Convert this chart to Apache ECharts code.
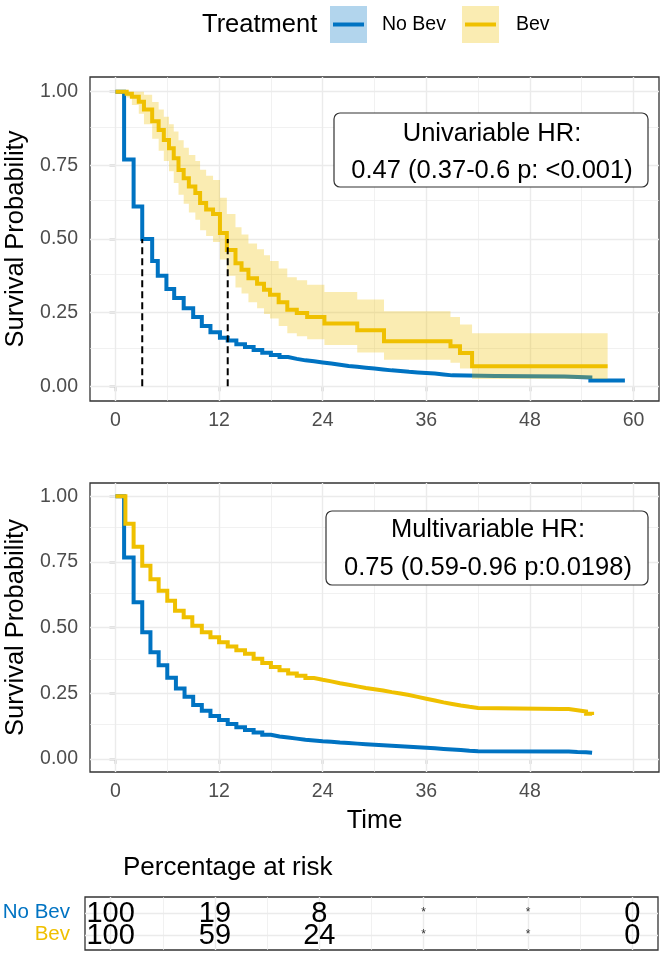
<!DOCTYPE html>
<html><head><meta charset="utf-8">
<script src="https://cdn.jsdelivr.net/npm/echarts@6/dist/echarts.min.js"></script>
<style>html,body{margin:0;padding:0;background:#fff}#c{width:664px;height:953px}</style>
</head><body><div id="c"></div>
<script>
// ---------- data ----------
const groups = ['No Bev', 'Bev'];
const xTicks = [0, 12, 24, 36, 48, 60];
const xTicksBottom = [0, 12, 24, 36, 48];
const xMinor = [6, 18, 30, 42, 54];
const yTicks = [0, 0.25, 0.5, 0.75, 1];
const yMinor = [0.125, 0.375, 0.625, 0.875];

// Univariable KM curves [time, survival]
const uniNoBev = [[0,1],[1.0,0.77],[2.1,0.61],[3.1,0.50],[4.25,0.425],[4.9,0.375],[5.9,0.33],[6.8,0.30],[7.9,0.265],[9.0,0.235],[10.0,0.205],[11.0,0.183],[12.1,0.165],[13,0.155],[14,0.143],[15,0.133],[16,0.123],[17,0.114],[18,0.106],[19,0.099],[20,0.093],[21,0.088],[22,0.085],[23,0.081],[24,0.077],[25,0.073],[26,0.069],[27,0.066],[28,0.063],[29,0.06],[30,0.057],[31,0.054],[32,0.052],[33,0.049],[34,0.047],[35,0.045],[36,0.043],[37,0.04],[38,0.037],[39,0.035],[44,0.034],[48,0.033],[52,0.03],[55,0.02],[59,0.02]];
const uniBev = [[0,1],[1.3,0.993],[1.9,0.983],[2.7,0.966],[3.3,0.94],[4.25,0.90],[5.0,0.87],[5.6,0.836],[6.2,0.808],[6.75,0.774],[7.3,0.734],[7.9,0.706],[8.5,0.678],[9.25,0.656],[9.8,0.622],[10.5,0.60],[11.3,0.585],[12.1,0.52],[12.9,0.463],[13.9,0.418],[14.6,0.396],[15.4,0.367],[16.4,0.348],[17.2,0.328],[17.9,0.311],[18.9,0.285],[19.9,0.26],[21.0,0.249],[22.2,0.235],[24.2,0.213],[28.0,0.19],[31.1,0.153],[38.8,0.136],[39.9,0.113],[41.3,0.068],[57.0,0.068]];
// Bev confidence band [time, upper, lower]
const uniBevBand = [[0,1,1],[1.3,1,0.98],[1.9,1,0.955],[2.7,1,0.925],[3.3,0.99,0.89],[4.25,0.965,0.84],[5.0,0.94,0.80],[5.6,0.915,0.765],[6.2,0.89,0.73],[6.75,0.865,0.69],[7.3,0.835,0.65],[7.9,0.81,0.62],[8.5,0.785,0.59],[9.25,0.765,0.565],[9.8,0.735,0.53],[10.5,0.715,0.51],[11.3,0.70,0.49],[12.1,0.64,0.43],[12.9,0.585,0.375],[13.9,0.54,0.335],[14.6,0.515,0.315],[15.4,0.485,0.285],[16.4,0.465,0.265],[17.2,0.445,0.245],[17.9,0.425,0.23],[18.9,0.40,0.205],[19.9,0.37,0.18],[21.0,0.36,0.17],[22.2,0.345,0.16],[24.2,0.32,0.14],[28.0,0.295,0.115],[31.1,0.255,0.09],[38.8,0.235,0.08],[39.9,0.21,0.06],[41.3,0.18,0.025],[57.0,0.18,0.025]];
const medianTimes = [3.1, 13.0];

// Multivariable adjusted curves [time, survival]
const multiNoBev = [[0,1],[1.0,0.766],[2.1,0.596],[3.1,0.482],[4.05,0.406],[5.0,0.356],[6.0,0.309],[7.0,0.268],[8.0,0.236],[9.0,0.205],[10,0.183],[11,0.163],[12,0.148],[13,0.133],[14,0.12],[15,0.11],[16,0.10],[17,0.092],[18,0.085],[19,0.081],[20,0.077],[21,0.073],[22,0.07],[23,0.067],[24,0.065],[25,0.062],[26,0.06],[27,0.058],[28,0.056],[29,0.054],[30,0.052],[31,0.05],[32,0.048],[33,0.046],[34,0.044],[35,0.042],[36,0.04],[37,0.038],[38,0.036],[39,0.034],[40,0.031],[41,0.029],[42,0.028],[51.5,0.028],[52.5,0.026],[53.5,0.025],[54.5,0.023],[55.2,0.022]];
const multiBev = [[0,1],[1.15,0.895],[2.1,0.807],[3.1,0.735],[4.05,0.684],[5.0,0.64],[6.0,0.602],[6.9,0.564],[7.9,0.539],[8.9,0.507],[10,0.482],[11,0.463],[12,0.444],[13,0.428],[14,0.413],[15,0.40],[16,0.381],[17,0.365],[18,0.35],[19,0.337],[20,0.325],[21,0.316],[22,0.308],[23,0.301],[24,0.295],[25,0.288],[26,0.282],[27,0.276],[28,0.27],[29,0.265],[30,0.26],[31,0.254],[32,0.249],[33,0.243],[34,0.236],[35,0.229],[36,0.222],[37,0.215],[38,0.209],[39,0.203],[40,0.198],[41,0.194],[42,0.19],[51.5,0.19],[52.5,0.185],[53.5,0.18],[54.5,0.172],[55.2,0.167]];

// Risk table
const riskTimes = [0, 12, 24, 36, 48, 60];
const riskNoBev = ['100', '19', '8', '*', '*', '0'];
const riskBev = ['100', '59', '24', '*', '*', '0'];

const hrUni = ['Univariable HR:', '0.47 (0.37-0.6 p: <0.001)'];
const hrMulti = ['Multivariable HR:', '0.75 (0.59-0.96 p:0.0198)'];

// ---------- style ----------
const FONT = '"Liberation Sans", Arial, Helvetica, sans-serif';
const C_BLUE = '#0073C2', C_GOLD = '#EFC000';
const F_BLUE = 'rgba(0,115,194,0.3)', F_GOLD = 'rgba(239,192,0,0.3)';
const XMIN = -2.95, XMAX = 62.95, YMIN = -0.05, YMAX = 1.05;

function xAxisCfg(gi, ticks, extra) {
  return Object.assign({
    type: 'value', gridIndex: gi, min: XMIN, max: XMAX,
    axisLine: { show: false }, splitLine: { show: false },
    axisTick: { show: !!ticks, customValues: ticks || [], length: 5, lineStyle: { color: '#333', width: 1.3 } },
    axisLabel: { show: !!ticks, customValues: ticks || [], fontSize: 19.5, color: '#4D4D4D', margin: 10, fontFamily: FONT }
  }, extra || {});
}
function yAxisCfg(gi) {
  return {
    type: 'value', gridIndex: gi, min: YMIN, max: YMAX,
    axisLine: { show: false }, splitLine: { show: false },
    axisTick: { show: true, customValues: yTicks, length: 6, lineStyle: { color: '#333', width: 1.3 } },
    axisLabel: { customValues: yTicks, fontSize: 19.5, color: '#4D4D4D', margin: 12, fontFamily: FONT,
      formatter: v => Number(v).toFixed(2) },
    name: 'Survival Probability', nameLocation: 'middle', nameRotate: 90, nameGap: 57,
    nameTextStyle: { fontSize: 25.5, color: '#000', fontFamily: FONT }
  };
}
function gridLines(gi, xs, xm, ys, ym) {
  const d = [];
  xs.forEach(v => d.push({ xAxis: v, lineStyle: { width: 1.4 } }));
  xm.forEach(v => d.push({ xAxis: v, lineStyle: { width: 0.7 } }));
  ys.forEach(v => d.push({ yAxis: v, lineStyle: { width: 1.4 } }));
  ym.forEach(v => d.push({ yAxis: v, lineStyle: { width: 0.7 } }));
  return {
    type: 'line', xAxisIndex: gi, yAxisIndex: gi, data: [], silent: true, z: 1,
    markLine: { silent: true, z: 1, symbol: ['none', 'none'], animation: false, label: { show: false },
      lineStyle: { color: '#EBEBEB', type: 'solid' }, data: d }
  };
}
function stepLine(gi, data, color, z) {
  return { type: 'line', xAxisIndex: gi, yAxisIndex: gi, data: data, step: 'end', showSymbol: false,
    symbol: 'none', lineStyle: { color: color, width: 4, join: 'miter', cap: 'butt' }, z: z, silent: true, animation: false };
}
function bandSeries(gi, band, fill, z) {
  return {
    type: 'custom', xAxisIndex: gi, yAxisIndex: gi, silent: true, z: z, animation: false,
    data: [[band[0][0], band[0][1]]],
    renderItem: function (params, api) {
      const top = [], bot = [];
      for (let i = 0; i < band.length - 1; i++) {
        const t0 = band[i][0], t1 = band[i + 1][0];
        top.push(api.coord([t0, band[i][1]]), api.coord([t1, band[i][1]]));
        bot.push(api.coord([t0, band[i][2]]), api.coord([t1, band[i][2]]));
      }
      return { type: 'polygon', shape: { points: top.concat(bot.reverse()) }, style: { fill: fill } };
    }
  };
}
function medianSeries(gi, t) {
  return { type: 'line', xAxisIndex: gi, yAxisIndex: gi, data: [[t, 0], [t, 0.5]], showSymbol: false, symbol: 'none',
    lineStyle: { color: '#000', width: 2, type: [7, 4] }, z: 10, silent: true, animation: false };
}
function riskRow(labels, yv) {
  return {
    type: 'custom', xAxisIndex: 2, yAxisIndex: 2, silent: true, z: 10, animation: false,
    data: riskTimes.map(t => [t, yv]),
    renderItem: function (params, api) {
      const p = api.coord([api.value(0), api.value(1)]);
      const s = labels[params.dataIndex];
      const star = s === '*';
      return { type: 'text', x: p[0], y: p[1] + (star ? 0 : 1),
        style: { text: s, fontSize: star ? 12 : 29, fontFamily: FONT, fill: star ? '#333' : '#000',
          align: 'center', verticalAlign: 'middle' } };
    }
  };
}
function hrBox(x, y, w, h, lines, cx, y1, y2) {
  return { type: 'group', z: 20, children: [
    { type: 'rect', shape: { x: x, y: y, width: w, height: h, r: 6 }, style: { fill: '#fff', stroke: '#333', lineWidth: 1.2 }, z: 20 },
    { type: 'text', x: cx, y: y1, style: { text: lines[0], fontSize: 25.5, fontFamily: FONT, fill: '#000', align: 'center', verticalAlign: 'middle' }, z: 21 },
    { type: 'text', x: cx, y: y2, style: { text: lines[1], fontSize: 25.5, fontFamily: FONT, fill: '#000', align: 'center', verticalAlign: 'middle' }, z: 21 }
  ]};
}

const chart = echarts.init(document.getElementById('c'), null, { renderer: 'canvas' });
const gridBox = { show: true, borderColor: '#333', borderWidth: 1.3, backgroundColor: '#fff',
  containLabel: false, outerBoundsMode: 'none' };
chart.setOption({
  animation: false,
  textStyle: { fontFamily: FONT },
  grid: [
    Object.assign({ left: 90, top: 77, width: 569, height: 324 }, gridBox),
    Object.assign({ left: 90, top: 483, width: 569, height: 289 }, gridBox),
    Object.assign({ left: 85, top: 897, width: 573, height: 53 }, gridBox)
  ],
  xAxis: [
    xAxisCfg(0, xTicks),
    xAxisCfg(1, xTicksBottom, { name: 'Time', nameLocation: 'middle', nameGap: 36,
      nameTextStyle: { fontSize: 25.5, color: '#000', fontFamily: FONT } }),
    xAxisCfg(2, null)
  ],
  yAxis: [
    yAxisCfg(0),
    yAxisCfg(1),
    { type: 'value', gridIndex: 2, min: -0.69, max: 1.72, axisLine: { show: false }, splitLine: { show: false },
      axisTick: { show: false },
      axisLabel: { customValues: [0, 1], margin: 15, fontSize: 20.5, fontFamily: FONT,
        formatter: v => (Number(v) === 1 ? groups[0] : groups[1]),
        color: v => (Number(v) === 1 ? C_BLUE : C_GOLD) } }
  ],
  graphic: [
    { type: 'text', x: 202, y: 25, z: 20, style: { text: 'Treatment', fontSize: 25.5, fontFamily: FONT, fill: '#000', verticalAlign: 'middle' } },
    { type: 'rect', shape: { x: 330, y: 6, width: 37, height: 37 }, style: { fill: F_BLUE }, z: 20 },
    { type: 'line', shape: { x1: 333, y1: 24.5, x2: 364, y2: 24.5 }, style: { stroke: C_BLUE, lineWidth: 4 }, z: 21 },
    { type: 'text', x: 382, y: 25, z: 20, style: { text: groups[0], fontSize: 19.5, fontFamily: FONT, fill: '#000', verticalAlign: 'middle' } },
    { type: 'rect', shape: { x: 462, y: 6, width: 37, height: 37 }, style: { fill: F_GOLD }, z: 20 },
    { type: 'line', shape: { x1: 465, y1: 24.5, x2: 496, y2: 24.5 }, style: { stroke: C_GOLD, lineWidth: 4 }, z: 21 },
    { type: 'text', x: 516, y: 25, z: 20, style: { text: groups[1], fontSize: 19.5, fontFamily: FONT, fill: '#000', verticalAlign: 'middle' } },
    hrBox(334, 113, 314, 74, hrUni, 492, 134, 171),
    hrBox(326, 511, 322, 74, hrMulti, 488, 530, 568),
    { type: 'text', x: 123, y: 868, z: 20, style: { text: 'Percentage at risk', fontSize: 26, fontFamily: FONT, fill: '#000', verticalAlign: 'middle' } }
  ],
  series: [
    gridLines(0, xTicks, xMinor, yTicks, yMinor),
    stepLine(0, uniNoBev, C_BLUE, 6),
    bandSeries(0, uniBevBand, F_GOLD, 7),
    stepLine(0, uniBev, C_GOLD, 8),
    medianSeries(0, medianTimes[0]),
    medianSeries(0, medianTimes[1]),
    gridLines(1, xTicks, xMinor, yTicks, yMinor),
    stepLine(1, multiNoBev, C_BLUE, 6),
    stepLine(1, multiBev, C_GOLD, 8),
    gridLines(2, xTicks, xMinor, [0, 1], []),
    riskRow(riskNoBev, 1),
    riskRow(riskBev, 0)
  ]
});
</script>
</body></html>
